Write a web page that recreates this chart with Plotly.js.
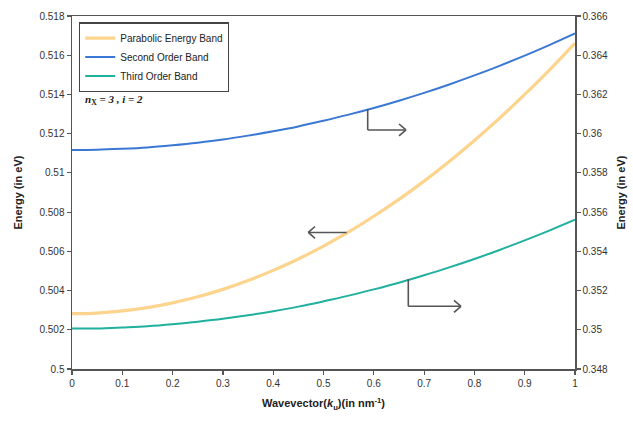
<!DOCTYPE html>
<html>
<head>
<meta charset="utf-8">
<script src="https://cdn.plot.ly/plotly-3.0.1.min.js"></script>
<style>html,body{margin:0;padding:0;background:#fff;}#chart{width:633px;height:422px;}</style>
</head>
<body>
<div id="chart"></div>
<script>
var wavevector = [0, 0.05, 0.1, 0.15, 0.2, 0.25, 0.3, 0.35, 0.4, 0.45, 0.5, 0.55, 0.6, 0.65, 0.7, 0.75, 0.8, 0.85, 0.9, 0.95, 1];
var parabolicBand = [0.50282, 0.50285, 0.50296, 0.50313, 0.50337, 0.50368, 0.50406, 0.50451, 0.50503, 0.50561, 0.50627, 0.50699, 0.50779, 0.50865, 0.50958, 0.51058, 0.51165, 0.51279, 0.51400, 0.51527, 0.51662];
var secondOrderBand = [0.35917, 0.35918, 0.35923, 0.35930, 0.35941, 0.35954, 0.35970, 0.35990, 0.36012, 0.36037, 0.36066, 0.36097, 0.36131, 0.36168, 0.36208, 0.36251, 0.36297, 0.36346, 0.36398, 0.36453, 0.36511];
var thirdOrderBand = [0.35006, 0.35007, 0.35012, 0.35018, 0.35028, 0.35041, 0.35056, 0.35074, 0.35095, 0.35118, 0.35145, 0.35174, 0.35206, 0.35240, 0.35278, 0.35318, 0.35361, 0.35407, 0.35456, 0.35507, 0.35561];
var xTicks = [0, 0.1, 0.2, 0.3, 0.4, 0.5, 0.6, 0.7, 0.8, 0.9, 1];
var leftTicks = [0.5, 0.502, 0.504, 0.506, 0.508, 0.51, 0.512, 0.514, 0.516, 0.518];
var rightTicks = [0.348, 0.35, 0.352, 0.354, 0.356, 0.358, 0.36, 0.362, 0.364, 0.366];

// plot-area geometry (pixels) for arrow decorations
var L = 72, R = 575, T = 15.8, B = 369.5;
function px(X){ return (X - L) / (R - L); }
function py(Y){ return (B - Y) / (B - T); }
function seg(x0, y0, x1, y1){
  return {type:'line', xref:'paper', yref:'paper', x0:px(x0), y0:py(y0), x1:px(x1), y1:py(y1),
          line:{color:'#555', width:1.6}};
}
var shapes = [
  // second order band arrow -> right
  seg(367.7, 109, 367.7, 130), seg(367.7, 130, 406, 130), seg(406, 130, 399, 124), seg(406, 130, 399, 136),
  // parabolic arrow <- left
  seg(346.7, 232.7, 308.3, 232.7), seg(308.3, 232.7, 315, 226.7), seg(308.3, 232.7, 315, 238.7),
  // third order band arrow -> right
  seg(408.3, 279.3, 408.3, 306.7), seg(408.3, 306.7, 461, 306.7), seg(461, 306.7, 454, 300.7), seg(461, 306.7, 454, 312.7)
];

var font = 'Liberation Sans, Arial, sans-serif';
var traces = [
  {x: wavevector, y: parabolicBand, name: 'Parabolic Energy Band', type: 'scatter', mode: 'lines',
   line: {color: '#FDD48E', width: 3.2, shape: 'spline'}, yaxis: 'y'},
  {x: wavevector, y: secondOrderBand, name: 'Second Order Band', type: 'scatter', mode: 'lines',
   line: {color: '#3A78D4', width: 2, shape: 'spline'}, yaxis: 'y2'},
  {x: wavevector, y: thirdOrderBand, name: 'Third Order Band', type: 'scatter', mode: 'lines',
   line: {color: '#1FB09E', width: 2, shape: 'spline'}, yaxis: 'y2'}
];

var axisCommon = {
  showgrid: false, zeroline: false, showline: true, linecolor: '#555', linewidth: 1.5,
  ticks: 'outside', ticklen: 4, tickwidth: 1.2, tickcolor: '#555',
  tickfont: {family: font, size: 10, color: '#333'}
};

var layout = {
  width: 633, height: 422,
  margin: {l: L, r: 633 - R, t: T, b: 422 - B},
  paper_bgcolor: '#ffffff', plot_bgcolor: '#ffffff',
  showlegend: true,
  legend: {x: 0.014, y: 0.982, xanchor: 'left', yanchor: 'top', bgcolor: '#ffffff',
           bordercolor: '#444', borderwidth: 1.2, font: {family: font, size: 10, color: '#222'},
           tracegroupgap: 0, itemwidth: 30},
  xaxis: Object.assign({}, axisCommon, {
    range: [0, 1], tickvals: xTicks, mirror: true,
    title: {text: '<b>Wavevector(<i>k</i><sub>u</sub>)(in nm<sup>-1</sup>)</b>', font: {family: font, size: 11, color: '#222'}, standoff: 12}
  }),
  yaxis: Object.assign({}, axisCommon, {
    range: [0.5, 0.518], tickvals: leftTicks,
    title: {text: '<b>Energy (in eV)</b>', font: {family: font, size: 11, color: '#222'}, standoff: 14}
  }),
  yaxis2: Object.assign({}, axisCommon, {
    range: [0.348, 0.366], tickvals: rightTicks, overlaying: 'y', side: 'right',
    title: {text: '<b>Energy (in eV)</b>', font: {family: font, size: 11, color: '#222'}, standoff: 10}
  }),
  shapes: shapes,
  annotations: [
    {xref: 'paper', yref: 'paper', x: 0.022, y: 0.762, xanchor: 'left', yanchor: 'middle', showarrow: false,
     text: '<b><i>n</i><sub>X</sub><i> = 3 , i = 2</i></b>', font: {family: 'Liberation Serif, Times New Roman, serif', size: 11, color: '#222'}}
  ]
};

Plotly.newPlot('chart', traces, layout, {displayModeBar: false, staticPlot: true});
</script>
</body>
</html>
